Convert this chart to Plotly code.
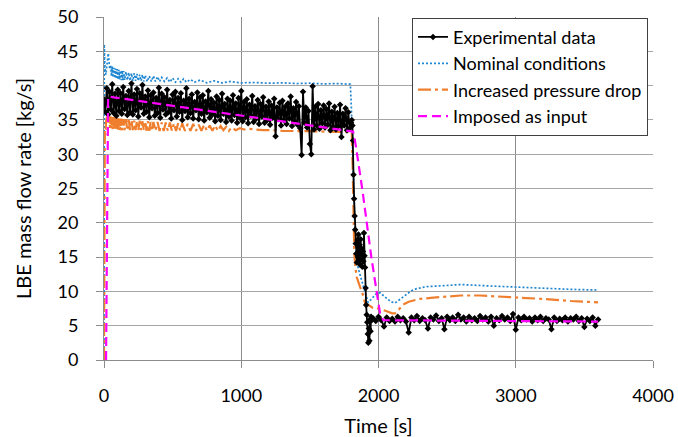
import plotly.graph_objects as go

# ---------------- data ----------------
# Experimental data, start-up plateau sampled every 10 s (0 ... 1800 s)
EXP_PRE_T0, EXP_PRE_DT = 0, 10
EXP_PRE_V = [
    38.0, 36.2, 39.6, 35.8, 39.1, 36.5, 40.2, 36.0, 38.8, 35.6, 39.4,
    36.3, 38.9, 35.9, 39.8, 36.6, 38.5, 35.7, 39.2, 36.1, 40.3,
    35.8, 38.7, 36.4, 39.5, 35.5, 38.9, 36.8, 40.1, 35.9, 38.4,
    36.2, 39.3, 35.4, 38.6, 36.7, 39.0, 35.6, 38.2, 36.0, 39.7,
    35.3, 38.8, 36.5, 38.3, 35.8, 39.4, 36.1, 37.9, 35.2, 38.7,
    36.4, 39.1, 35.5, 38.2, 36.2, 38.9, 35.0, 37.8, 36.3, 39.6,
    35.4, 38.1, 36.0, 38.7, 35.2, 37.6, 36.4, 39.0, 35.1, 38.3,
    35.9, 38.6, 34.9, 37.7, 36.1, 39.2, 35.3, 38.0, 35.8, 37.5,
    34.8, 38.4, 35.6, 37.9, 35.0, 38.8, 35.9, 37.3, 34.7, 38.1,
    35.5, 37.8, 34.9, 38.6, 35.7, 37.4, 34.6, 38.2, 35.3, 39.2,
    34.8, 37.6, 35.4, 38.0, 34.5, 37.2, 35.6, 38.5, 34.7, 37.0,
    35.2, 37.9, 34.4, 37.3, 35.5, 38.3, 34.6, 36.9, 35.0, 37.7,
    34.3, 37.1, 35.3, 38.1, 32.6, 36.8, 35.1, 37.5, 34.2, 37.8,
    35.0, 36.9, 34.4, 37.4, 35.2, 38.4, 34.1, 36.7, 34.8, 37.6,
    34.3, 37.0, 33.8, 29.9, 39.1, 34.6, 36.8, 33.9, 36.3, 31.5,
    30.0, 39.9, 33.6, 36.9, 34.2, 37.3, 33.7, 36.4, 34.5, 37.1,
    33.9, 36.6, 34.3, 37.4, 33.5, 36.2, 34.0, 36.9, 33.6, 36.0,
    34.1, 37.2, 32.5, 35.9, 34.2, 36.7, 33.5, 36.1, 33.8, 34.6,
]
# Experimental data during the flow-rate drop
EXP_DROP_T = [1805, 1810, 1814, 1818, 1822, 1826, 1830, 1834, 1838, 1842,
              1846, 1850, 1854, 1858, 1862, 1866, 1870, 1874, 1878, 1882,
              1886, 1890, 1894, 1898, 1902, 1906, 1910, 1914, 1918, 1922,
              1926, 1930, 1934, 1938, 1942, 1946, 1950]
EXP_DROP_V = [35.0, 34.2, 32.0, 27.0, 23.5, 21.0, 19.0, 17.0, 15.5, 14.2,
              17.5, 15.0, 18.3, 14.5, 16.8, 13.9, 17.6, 14.8, 16.2, 13.6,
              15.8, 14.4, 18.5, 15.2, 13.5, 10.5, 8.0, 6.6, 5.5, 3.8,
              2.5, 4.6, 2.8, 5.9, 4.2, 6.3, 5.8]
# Experimental data, low-flow plateau sampled every 20 s (1960 ... 3600 s)
EXP_POST_T0, EXP_POST_DT = 1960, 20
EXP_POST_V = [
    6.1, 5.7, 6.3, 5.8, 4.9, 6.2, 5.7, 6.0, 5.6, 6.3,
    5.8, 6.1, 5.6, 4.0, 6.2, 5.8, 6.4, 5.7, 6.1, 5.8,
    4.6, 6.2, 5.9, 6.5, 5.7, 6.1, 4.5, 6.3, 5.8, 6.2,
    5.7, 6.6, 5.9, 6.2, 5.6, 6.3, 5.8, 6.1, 5.7, 6.4,
    5.9, 6.2, 5.6, 6.3, 5.0, 6.1, 5.8, 6.4, 5.9, 6.2,
    5.7, 6.7, 4.4, 6.2, 5.8, 6.3, 5.9, 6.1, 5.6, 6.2,
    5.8, 6.3, 5.7, 6.1, 5.9, 4.5, 6.2, 5.7, 6.0, 5.8,
    6.2, 5.6, 6.1, 5.9, 6.3, 5.7, 6.1, 4.8, 6.0, 5.7,
    6.2, 5.0, 5.9,
]

# Simulation: nominal conditions
NOM_T = [0, 2, 5, 9, 14, 20, 26, 31, 36, 42, 48, 54, 60, 66, 72, 78, 84,
         90, 96, 102, 108, 114, 120, 126, 132, 138, 144, 150, 160, 170,
         180, 190, 200, 210, 220, 230, 240, 250, 260, 270, 280, 290, 300,
         315, 330, 345, 360, 375, 390, 405, 420, 440, 460, 480, 500, 520,
         540, 560, 580, 600, 630, 660, 700, 750, 800, 860, 920, 1000, 1100,
         1200, 1300, 1400, 1500, 1600, 1700, 1795, 1802, 1808, 1815, 1820,
         1828, 1836, 1845, 1860, 1877, 1900, 1924, 1950, 1980, 2011, 2050,
         2090, 2120, 2160, 2200, 2240, 2278, 2350, 2450, 2600, 2800, 3000,
         3200, 3400, 3600]
NOM_V = [0.0, 46.0, 43.8, 42.0, 41.6, 42.8, 44.0, 44.7, 43.6, 42.4, 43.0,
         41.4, 42.8, 41.2, 42.6, 41.1, 42.5, 41.0, 42.4, 40.9, 42.3, 40.9,
         42.2, 40.8, 42.2, 40.8, 42.1, 40.8, 42.0, 40.8, 41.9, 40.7, 41.8,
         40.7, 41.8, 40.7, 41.7, 40.7, 41.6, 40.7, 41.6, 40.6, 41.5, 40.6,
         41.4, 40.6, 41.4, 40.6, 41.3, 40.6, 41.2, 40.6, 41.1, 40.5, 41.1,
         40.5, 41.0, 40.5, 41.0, 40.5, 40.9, 40.5, 40.8, 40.4, 40.7, 40.4,
         40.6, 40.4, 40.45, 40.35, 40.4, 40.3, 40.35, 40.25, 40.3, 40.2,
         37.0, 32.0, 27.0, 24.0, 19.5, 16.5, 14.0, 12.8, 11.7, 10.0, 8.4,
         8.9, 9.6, 9.8, 9.1, 8.5, 8.3, 8.9, 9.6, 10.1, 10.4, 10.7, 10.8,
         11.0, 10.8, 10.6, 10.5, 10.3, 10.2]

# Simulation: increased pressure drop
INC_T = [0, 3, 6, 10, 15, 20, 26, 32, 38, 44, 50, 56, 62, 68, 74, 80, 86,
         92, 98, 104, 110, 118, 126, 134, 142, 150, 160, 170, 180, 190,
         200, 210, 220, 230, 240, 250, 260, 270, 280, 290, 300, 310, 320,
         330, 340, 350, 360, 375, 390, 405, 420, 435, 450, 465, 480, 495,
         510, 525, 540, 555, 570, 590, 610, 630, 650, 670, 690, 710, 730,
         750, 770, 790, 810, 830, 850, 870, 890, 910, 930, 960, 990, 1020,
         1060, 1100, 1160, 1230, 1300, 1500, 1700, 1805, 1812, 1818, 1824,
         1830, 1841, 1865, 1885, 1902, 1930, 1960, 2000, 2020, 2060, 2100,
         2120, 2150, 2180, 2220, 2260, 2300, 2400, 2500, 2600, 2740, 2850,
         3000, 3200, 3400, 3600]
INC_V = [0.0, 18.0, 33.5, 32.8, 34.8, 35.7, 35.9, 34.6, 35.6, 33.8, 35.5,
         33.7, 35.4, 33.6, 35.4, 33.6, 35.3, 33.6, 35.3, 33.5, 35.2, 33.5,
         35.2, 33.5, 35.1, 33.5, 35.1, 33.5, 35.0, 33.5, 35.0, 33.5, 34.9,
         33.5, 34.9, 33.5, 34.9, 33.5, 34.8, 33.5, 34.8, 33.4, 34.8, 33.4,
         34.7, 33.4, 34.7, 33.4, 34.7, 33.4, 34.6, 33.4, 34.6, 33.4, 34.6,
         33.4, 34.5, 33.4, 34.5, 33.4, 34.5, 33.4, 34.4, 33.4, 34.4, 33.4,
         34.3, 33.4, 34.3, 33.4, 34.2, 33.4, 34.2, 33.4, 34.1, 33.5, 34.0,
         33.4, 33.9, 33.5, 33.8, 33.6, 33.7, 33.6, 33.5, 33.5, 33.4, 33.35,
         33.3, 33.2, 28.0, 20.0, 15.5, 13.8, 12.1, 10.7, 9.6, 8.3, 7.9,
         7.6, 7.5, 7.4, 7.1, 6.8, 6.8, 7.4, 8.1, 8.5, 8.7, 8.9, 9.1, 9.3,
         9.4, 9.4, 9.3, 9.1, 8.9, 8.6, 8.4]

# Flow rate imposed as boundary condition
IMP_T = [15, 22, 30, 1815, 1830, 1850, 1886, 1947, 2011, 2035, 3600]
IMP_V = [0.0, 20.0, 38.4, 33.3, 31.8, 29.2, 24.3, 15.1, 6.8, 5.8, 5.6]

X_TICKS = [0, 1000, 2000, 3000, 4000]
Y_TICKS = [0, 5, 10, 15, 20, 25, 30, 35, 40, 45, 50]

# ---------------- assemble experimental series ----------------
exp_t = [EXP_PRE_T0 + i * EXP_PRE_DT for i in range(len(EXP_PRE_V))]
exp_t += EXP_DROP_T
exp_t += [EXP_POST_T0 + i * EXP_POST_DT for i in range(len(EXP_POST_V))]
exp_v = EXP_PRE_V + EXP_DROP_V + EXP_POST_V

FONT = "Lato"

fig = go.Figure()

fig.add_trace(go.Scatter(
    x=NOM_T, y=NOM_V, mode="lines", name="Nominal conditions",
    line=dict(color="#1f86d1", width=1.7, dash="2px,2px"),
    legendrank=2,
))
fig.add_trace(go.Scatter(
    x=INC_T, y=INC_V, mode="lines", name="Increased pressure drop",
    line=dict(color="#ef7f2e", width=2.2, dash="13px,4px,3px,4px"),
    legendrank=3,
))
fig.add_trace(go.Scatter(
    x=exp_t, y=exp_v, mode="lines+markers", name="Experimental data",
    line=dict(color="black", width=1.8),
    marker=dict(symbol="diamond", size=5, color="black"),
    legendrank=1,
))
fig.add_trace(go.Scatter(
    x=IMP_T, y=IMP_V, mode="lines", name="Imposed as input",
    line=dict(color="#ff00ff", width=2.2, dash="9px,5px"),
    legendrank=4,
))

fig.update_layout(
    width=678, height=437,
    margin=dict(l=104, r=25, t=17, b=77),
    paper_bgcolor="white", plot_bgcolor="white",
    font=dict(family=FONT, size=18, color="black"),
    showlegend=True,
    legend=dict(
        x=0.561, y=0.998, xanchor="left", yanchor="top",
        bgcolor="white", bordercolor="#404040", borderwidth=1,
        font=dict(family=FONT, size=18, color="black"),
        itemwidth=30,
    ),
    xaxis=dict(
        range=[0, 4000], tickvals=X_TICKS, automargin=False,
        showgrid=True, gridcolor="#8c8c8c", gridwidth=1,
        showline=True, linecolor="#8c8c8c", linewidth=1,
        ticks="outside", ticklen=7, tickcolor="#8c8c8c",
        ticklabelstandoff=12,
        zeroline=False,
        title=dict(text="Time [s]", font=dict(family=FONT, size=20), standoff=14),
    ),
    yaxis=dict(
        range=[0, 50], tickvals=Y_TICKS, automargin=False,
        showgrid=True, gridcolor="#a6a6a6", gridwidth=1,
        showline=True, linecolor="#8c8c8c", linewidth=1,
        ticks="outside", ticklen=7, tickcolor="#8c8c8c",
        ticklabelstandoff=14,
        zeroline=False,
        title=dict(text="LBE mass flow rate [kg/s]", font=dict(family=FONT, size=20), standoff=20),
    ),
)

fig.write_html("out.html")
